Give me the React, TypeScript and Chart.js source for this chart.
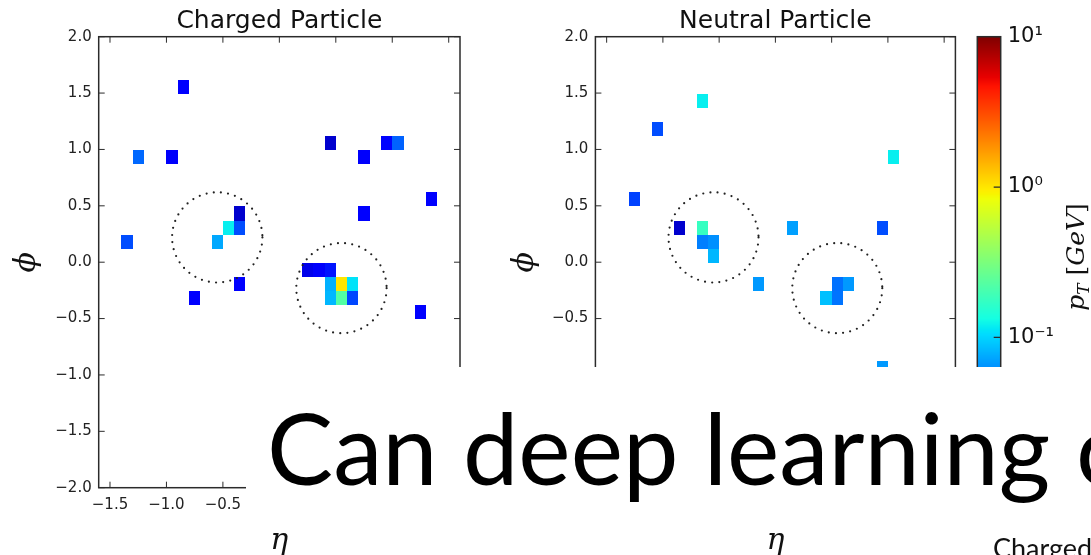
import React, { useEffect, useRef } from 'react';
import { Chart, registerables } from 'chart.js';
Chart.register(...registerables);

// ---------- data ----------
const etaTicks = [-1.5, -1.0, -0.5, 0.0, 0.5, 1.0, 1.5];
const phiTicks = [-2.0, -1.5, -1.0, -0.5, 0.0, 0.5, 1.0, 1.5, 2.0];
const ptTicks = [0.01, 0.1, 1, 10];

const chargedEta = [-0.85, -1.25, -0.95, 0.45, 0.75, 0.95, 1.05, 1.35, 0.75, -0.35, -0.35, -0.45, -0.55, -1.35, -0.35, -0.75, 0.25, 0.35, 0.45, 0.45, 0.55, 0.65, 0.45, 0.55, 0.65, 1.25];
const chargedPhi = [1.557, 0.932, 0.932, 1.057, 0.932, 1.057, 1.057, 0.557, 0.432, 0.432, 0.307, 0.307, 0.182, 0.182, -0.193, -0.318, -0.068, -0.068, -0.068, -0.193, -0.193, -0.193, -0.318, -0.318, -0.318, -0.443];
const chargedPt = [0.022, 0.048, 0.021, 0.016, 0.021, 0.024, 0.046, 0.022, 0.022, 0.016, 0.04, 0.12, 0.074, 0.04, 0.022, 0.022, 0.019, 0.021, 0.027, 0.078, 1.0, 0.11, 0.082, 0.224, 0.038, 0.022];

const neutralEta = [-0.65, -1.05, -1.25, 1.05, -0.85, -0.65, -0.65, -0.55, -0.55, -0.15, 0.15, 0.95, 0.55, 0.65, 0.45, 0.55, 0.95];
const neutralPhi = [1.432, 1.182, 0.557, 0.932, 0.307, 0.307, 0.182, 0.182, 0.057, -0.193, 0.307, 0.307, -0.193, -0.193, -0.318, -0.318, -0.943];
const neutralPt = [0.12, 0.04, 0.037, 0.12, 0.016, 0.176, 0.056, 0.063, 0.082, 0.067, 0.07, 0.04, 0.051, 0.067, 0.087, 0.052, 0.067];

const jetEta = [-0.55, 0.55];
const jetPhi = [0.22, -0.23];
const jetRadius = 0.4;

const CELL_ETA = 0.1;
const CELL_PHI = 0.125;
const PT_MIN = 0.01;
const PT_MAX = 10;

// ---------- layout ----------
const H = 555;
const PLOT_TOP = 36.7;
const PLOT_BOTTOM = 487.7;

// ---------- colormap (matplotlib jet) ----------
const JET: Record<string, number[][]> = {
  r: [[0, 0], [0.35, 0], [0.66, 1], [0.89, 1], [1, 0.5]],
  g: [[0, 0], [0.125, 0], [0.375, 1], [0.64, 1], [0.91, 0], [1, 0]],
  b: [[0, 0.5], [0.11, 1], [0.34, 1], [0.65, 0], [1, 0]],
};
function interp(pts: number[][], t: number) {
  t = Math.max(0, Math.min(1, t));
  for (let i = 1; i < pts.length; i++) {
    if (t <= pts[i][0]) {
      const [x0, y0] = pts[i - 1];
      const [x1, y1] = pts[i];
      return y0 + ((t - x0) / (x1 - x0)) * (y1 - y0);
    }
  }
  return pts[pts.length - 1][1];
}
function jet(t: number) {
  const r = Math.round(interp(JET.r, t) * 255);
  const g = Math.round(interp(JET.g, t) * 255);
  const b = Math.round(interp(JET.b, t) * 255);
  return `rgb(${r},${g},${b})`;
}
function ptColor(v: number) {
  const t = (Math.log10(v) - Math.log10(PT_MIN)) / (Math.log10(PT_MAX) - Math.log10(PT_MIN));
  return jet(t);
}

const fmt = (v: any) => {
  const n = Number(v);
  const s = Math.abs(n).toFixed(1);
  return n < -1e-9 ? '\u2212' + s : s;
};

const FRAME = '#2b2b2b';

const panelPlugin = {
  id: 'panelDraw',
  afterDatasetsDraw(chart: any) {
    const { ctx, chartArea: a, scales } = chart;
    const x = scales.x;
    const y = scales.y;
    const data = chart.data.datasets[0].data as any[];
    ctx.save();
    ctx.beginPath();
    ctx.rect(a.left, a.top, a.right - a.left, a.bottom - a.top);
    ctx.clip();
    for (const c of data) {
      const x0 = Math.round(x.getPixelForValue(c.x - CELL_ETA / 2));
      const x1 = Math.round(x.getPixelForValue(c.x + CELL_ETA / 2));
      const y0 = Math.round(y.getPixelForValue(c.y + CELL_PHI / 2));
      const y1 = Math.round(y.getPixelForValue(c.y - CELL_PHI / 2));
      ctx.fillStyle = ptColor(c.v);
      ctx.fillRect(x0, y0, x1 - x0, y1 - y0);
    }
    ctx.strokeStyle = '#222';
    ctx.lineWidth = 2.2;
    ctx.lineCap = 'round';
    ctx.setLineDash([0, 7.2]);
    jetEta.forEach((e, i) => {
      const cx = x.getPixelForValue(e);
      const cy = y.getPixelForValue(jetPhi[i]);
      const rx = Math.abs(x.getPixelForValue(e + jetRadius) - cx);
      const ry = Math.abs(cy - y.getPixelForValue(jetPhi[i] + jetRadius));
      ctx.beginPath();
      ctx.ellipse(cx, cy, rx, ry, 0, 0, Math.PI * 2);
      ctx.stroke();
    });
    ctx.restore();

    ctx.save();
    ctx.strokeStyle = FRAME;
    ctx.lineWidth = 1.5;
    ctx.strokeRect(a.left, a.top, a.right - a.left, a.bottom - a.top);
    ctx.lineWidth = 1;
    const L = 6;
    ctx.beginPath();
    x.ticks.forEach((t: any) => {
      const px = x.getPixelForValue(t.value);
      ctx.moveTo(px, a.bottom);
      ctx.lineTo(px, a.bottom - L);
      ctx.moveTo(px, a.top);
      ctx.lineTo(px, a.top + L);
    });
    y.ticks.forEach((t: any) => {
      const py = y.getPixelForValue(t.value);
      ctx.moveTo(a.left, py);
      ctx.lineTo(a.left + L, py);
      ctx.moveTo(a.right, py);
      ctx.lineTo(a.right - L, py);
    });
    ctx.stroke();
    ctx.restore();
  },
};

function panelConfig(title: string, eta: number[], phi: number[], pt: number[], yWidth: number, padRight: number, yTitlePad: number): any {
  return {
    type: 'scatter',
    data: {
      datasets: [
        {
          data: eta.map((e, i) => ({ x: e, y: phi[i], v: pt[i] })),
          pointRadius: 0,
          pointHoverRadius: 0,
        },
      ],
    },
    options: {
      responsive: false,
      maintainAspectRatio: false,
      animation: false,
      events: [],
      layout: { padding: { left: 0, right: padRight, top: 0, bottom: 0 } },
      plugins: {
        legend: { display: false },
        tooltip: { enabled: false },
        title: {
          display: true,
          text: title,
          fullSize: false,
          color: '#111',
          font: { family: 'DejaVu Sans', size: 25, weight: 'normal', lineHeight: 1.2 },
          padding: { top: 6, bottom: 0.7 },
        },
      },
      scales: {
        x: {
          type: 'linear',
          position: 'bottom',
          min: -1.6,
          max: 1.6,
          afterBuildTicks: (s: any) => {
            s.ticks = etaTicks.map((v) => ({ value: v }));
          },
          afterFit: (s: any) => {
            s.height = H - PLOT_BOTTOM;
          },
          grid: { display: false, drawTicks: false },
          border: { display: false },
          ticks: {
            callback: fmt,
            autoSkip: false,
            maxRotation: 0,
            padding: 8,
            color: '#222',
            font: { family: 'DejaVu Sans', size: 15 },
          },
          title: {
            display: true,
            text: '\u03b7',
            color: '#111',
            font: { family: 'DejaVu Serif', style: 'italic', size: 30, lineHeight: 1.2 },
            padding: { top: 0, bottom: -4 },
          },
        },
        y: {
          type: 'linear',
          position: 'left',
          min: -2,
          max: 2,
          afterBuildTicks: (s: any) => {
            s.ticks = phiTicks.map((v) => ({ value: v }));
          },
          afterFit: (s: any) => {
            s.width = yWidth;
          },
          grid: { display: false, drawTicks: false },
          border: { display: false },
          ticks: {
            callback: fmt,
            autoSkip: false,
            padding: 7,
            color: '#222',
            font: { family: 'DejaVu Sans', size: 15 },
          },
          title: {
            display: true,
            text: '\u03d5',
            color: '#111',
            font: { family: 'DejaVu Serif', style: 'italic', size: 30, lineHeight: 1.2 },
            padding: { top: yTitlePad, bottom: 0 },
          },
        },
      },
    },
    plugins: [panelPlugin],
  };
}

const supMap: Record<string, string> = { '-': '\u207b', '0': '\u2070', '1': '\u00b9', '2': '\u00b2' };
const sup = (n: number) => String(n).split('').map((c) => supMap[c] || c).join('');

const colorbarPlugin = {
  id: 'colorbarDraw',
  afterDatasetsDraw(chart: any) {
    const { ctx, chartArea: a, scales } = chart;
    const y = scales.y;
    ctx.save();
    for (let py = Math.floor(a.top); py < Math.ceil(a.bottom); py++) {
      const v = y.getValueForPixel(py + 0.5);
      ctx.fillStyle = ptColor(v);
      ctx.fillRect(a.left, py, a.right - a.left, 1);
    }
    ctx.strokeStyle = FRAME;
    ctx.lineWidth = 1.5;
    ctx.strokeRect(a.left, a.top, a.right - a.left, a.bottom - a.top);
    ctx.lineWidth = 1.2;
    ctx.beginPath();
    y.ticks.forEach((t: any) => {
      const py = y.getPixelForValue(t.value);
      ctx.moveTo(a.right, py);
      ctx.lineTo(a.right - 7, py);
    });
    ctx.stroke();
    ctx.restore();

    // axis label p_T [GeV], reading bottom-to-top
    ctx.save();
    ctx.translate(116, 257);
    ctx.rotate(-Math.PI / 2);
    ctx.fillStyle = '#111';
    ctx.textBaseline = 'alphabetic';
    const big = 25;
    const parts = [
      { t: 'p', f: `italic ${big}px "DejaVu Serif"`, dy: 0 },
      { t: 'T', f: `italic ${big * 0.68}px "DejaVu Serif"`, dy: 5 },
      { t: ' [', f: `${big}px "DejaVu Serif"`, dy: 0 },
      { t: 'GeV', f: `italic ${big}px "DejaVu Serif"`, dy: 0 },
      { t: ']', f: `${big}px "DejaVu Serif"`, dy: 0 },
    ];
    let total = 0;
    const widths = parts.map((p) => {
      ctx.font = p.f;
      const w = ctx.measureText(p.t).width;
      total += w;
      return w;
    });
    let cx = -total / 2;
    parts.forEach((p, i) => {
      ctx.font = p.f;
      ctx.fillText(p.t, cx, 8 + p.dy);
      cx += widths[i];
    });
    ctx.restore();
  },
};

function colorbarConfig(): any {
  return {
    type: 'scatter',
    data: { datasets: [{ data: [], pointRadius: 0 }] },
    options: {
      responsive: false,
      maintainAspectRatio: false,
      animation: false,
      events: [],
      layout: { padding: { left: 17.3, right: 0, top: PLOT_TOP, bottom: H - PLOT_BOTTOM } },
      plugins: { legend: { display: false }, tooltip: { enabled: false }, title: { display: false } },
      scales: {
        x: { display: false, min: 0, max: 1 },
        y: {
          type: 'logarithmic',
          position: 'right',
          min: PT_MIN,
          max: PT_MAX,
          afterBuildTicks: (s: any) => {
            s.ticks = ptTicks.map((v) => ({ value: v }));
          },
          afterFit: (s: any) => {
            s.width = 131 - 40.7;
          },
          grid: { display: false, drawTicks: false },
          border: { display: false },
          ticks: {
            callback: (v: any) => '10' + sup(Math.round(Math.log10(Number(v)))),
            autoSkip: false,
            padding: 7,
            color: '#111',
            font: { family: 'DejaVu Sans', size: 21 },
          },
        },
      },
    },
    plugins: [colorbarPlugin],
  };
}

function ChartCanvas({ left, width, make }: { left: number; width: number; make: () => any }) {
  const ref = useRef<HTMLCanvasElement>(null);
  useEffect(() => {
    const chart = new Chart(ref.current as HTMLCanvasElement, make());
    return () => chart.destroy();
  }, []);
  return (
    <canvas
      ref={ref}
      width={width}
      height={H}
      style={{ position: 'absolute', left, top: 0, width, height: H }}
    />
  );
}

export default function App() {
  return (
    <div
      style={{
        position: 'fixed',
        left: 0,
        top: 0,
        width: 1091,
        height: H,
        background: '#fff',
        overflow: 'hidden',
      }}
    >
      <ChartCanvas
        left={0}
        width={480}
        make={() => panelConfig('Charged Particle', chargedEta, chargedPhi, chargedPt, 98.7, 20, 9.5)}
      />
      <ChartCanvas
        left={480}
        width={500}
        make={() => panelConfig('Neutral Particle', neutralEta, neutralPhi, neutralPt, 115.4, 24.6, 27.6)}
      />
      <ChartCanvas left={960} width={131} make={colorbarConfig} />
      <svg width={1091} height={H} style={{ position: 'absolute', left: 0, top: 0 }}>
        <rect x={246} y={367} width={845} height={155} fill="#fff" />
        <text x={267} y={484.5} fontFamily="Lato" fontSize={99} fill="#000">
          <tspan>Can deep learning</tspan>
          <tspan x={1076}>c</tspan>
        </text>
        <text x={993} y={558} fontFamily="Lato" fontSize={27} fill="#111">
          Charged
        </text>
      </svg>
    </div>
  );
}
